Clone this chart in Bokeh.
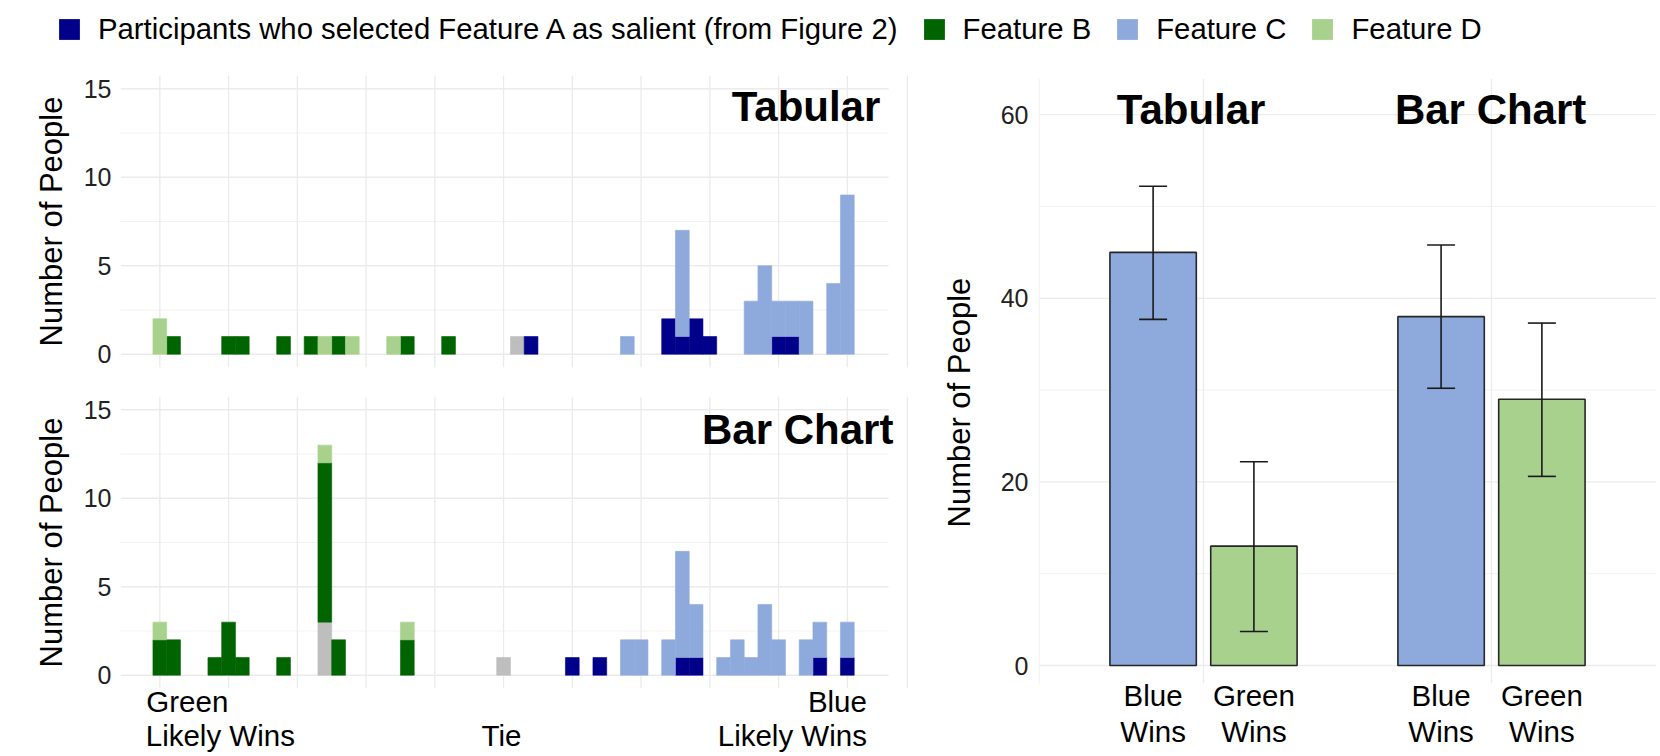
from bokeh.plotting import figure
from bokeh.layouts import column, row
from bokeh.models import (Label, Legend, LegendItem, FixedTicker, Range1d, ColumnDataSource,
                          LinearAxis, Title)
from bokeh.embed import file_html
from bokeh.resources import INLINE

FONT = "Liberation Sans"

# ---------------- data ----------------
categories = ["Other", "Feature A", "Feature B", "Feature C", "Feature D"]
cat_colors = ["#bebebe", "#00008b", "#006400", "#8eaadc", "#a9d18e"]
legend_labels = ["Participants who selected Feature A as salient (from Figure 2)",
                 "Feature B", "Feature C", "Feature D"]

n_bins = 51  # bin positions 0..50 (0 = Green likely wins, 25 = Tie, 50 = Blue likely wins)

# Tabular panel: (bin positions, counts) per category
tab_other_bins, tab_other_n = [26], [1]
tab_a_bins, tab_a_n = [27, 37, 38, 39, 40, 45, 46], [1, 2, 1, 2, 1, 1, 1]
tab_b_bins, tab_b_n = [1, 5, 6, 9, 11, 13, 18, 21], [1, 1, 1, 1, 1, 1, 1, 1]
tab_c_bins, tab_c_n = [34, 38, 43, 44, 45, 46, 47, 49, 50], [1, 6, 3, 5, 2, 2, 3, 4, 9]
tab_d_bins, tab_d_n = [0, 12, 14, 17], [2, 1, 1, 1]

# Bar Chart panel
bar_other_bins, bar_other_n = [12, 25], [3, 1]
bar_a_bins, bar_a_n = [30, 32, 38, 39, 48, 50], [1, 1, 1, 1, 1, 1]
bar_b_bins, bar_b_n = [0, 1, 4, 5, 6, 9, 12, 13, 18], [2, 2, 1, 3, 1, 1, 9, 2, 2]
bar_c_bins, bar_c_n = ([34, 35, 37, 38, 39, 41, 42, 43, 44, 45, 47, 48, 50],
                       [2, 2, 2, 6, 3, 1, 2, 1, 4, 2, 2, 2, 2])
bar_d_bins, bar_d_n = [0, 12, 18], [1, 1, 1]

hist_yticks = [0, 5, 10, 15]
hist_yminor = [2.5, 7.5, 12.5]
hist_xgrid = [0, 5, 10, 15, 20, 25, 30, 35, 40, 45, 50]
# x labels (two lines): anchor positions chosen so that the lines read as in the original
x_line1 = {2.0: "Green", 49.28: "Blue"}
x_line2 = {4.4: "Likely Wins", 24.85: "Tie", 46.0: "Likely Wins"}

# Summary bar chart
groups = ["Tabular", "Bar Chart"]
group_x = [1, 2]
outcomes = ["Blue Wins", "Green Wins"]
outcome_colors = ["#8eaadc", "#a9d18e"]
counts = [[45, 13], [38, 29]]
err_low = [[37.7, 3.7], [30.2, 20.6]]
err_high = [[52.2, 22.2], [45.8, 37.3]]
bar_yticks = [0, 20, 40, 60]
bar_yminor = [10, 30, 50]

GRID = "#ebebeb"
MINOR = "#f2f2f2"
TICK_PX = "25px"
TEXT_PX = "29.5px"
YTITLE_PX = "31px"


def dense(bins_, n_):
    arr = [0] * n_bins
    for b, n in zip(bins_, n_):
        arr[b] = n
    return arr


def style_yaxis(p, ticks, std, lstd, title=True):
    ax = p.yaxis[0]
    ax.ticker = FixedTicker(ticks=ticks)
    if title:
        ax.axis_label = "Number of People"
        ax.axis_label_text_font = FONT
        ax.axis_label_text_font_size = YTITLE_PX
        ax.axis_label_text_font_style = "normal"
        ax.axis_label_text_color = "#000000"
        ax.axis_label_standoff = lstd
    ax.major_label_text_font = FONT
    ax.major_label_text_font_size = TICK_PX
    ax.major_label_text_color = "#222222"
    ax.major_label_standoff = std
    ax.axis_line_color = None
    ax.major_tick_line_color = None
    ax.minor_tick_line_color = None
    ax.major_tick_in = 0
    ax.major_tick_out = 0


def label_axis(p, mapping, std):
    ax = LinearAxis(ticker=FixedTicker(ticks=list(mapping.keys())),
                    major_label_overrides={k: v for k, v in mapping.items()})
    ax.major_label_text_font = FONT
    ax.major_label_text_font_size = TEXT_PX
    ax.major_label_text_color = "#000000"
    ax.major_label_standoff = std
    ax.axis_line_color = None
    ax.major_tick_line_color = None
    ax.minor_tick_line_color = None
    ax.major_tick_in = 0
    ax.major_tick_out = 0
    p.add_layout(ax, "below")
    return ax


FRAME_W = 788
X0 = -2.86
X1 = X0 + FRAME_W / 13.75
Y0, Y1 = -0.75, 15.75


def hist_fig(panel, title, title_x, title_y, bottom_border, top_border, with_labels):
    p = figure(frame_width=FRAME_W, frame_height=292, output_backend="svg", toolbar_location=None,
               x_range=Range1d(X0, X1), y_range=Range1d(Y0, Y1), x_axis_location=None,
               min_border_left=120, min_border_right=0, min_border_top=top_border,
               min_border_bottom=bottom_border)
    p.outline_line_color = None
    p.xgrid.visible = False
    p.ygrid.visible = False
    p.segment(x0=[X0] * len(hist_yminor), x1=[53] * len(hist_yminor), y0=hist_yminor, y1=hist_yminor,
              line_color=MINOR, line_width=1.0)
    p.segment(x0=[X0] * len(hist_yticks), x1=[53] * len(hist_yticks), y0=hist_yticks, y1=hist_yticks,
              line_color=GRID, line_width=1.3)
    p.segment(x0=hist_xgrid, x1=hist_xgrid, y0=[Y0] * len(hist_xgrid), y1=[Y1] * len(hist_xgrid),
              line_color=GRID, line_width=1.3)
    p.segment(x0=[X1 - 0.08], x1=[X1 - 0.08], y0=[Y0], y1=[Y1], line_color=GRID, line_width=1.3)
    base = [0] * n_bins
    for (bins_, n_), col in zip(panel, cat_colors):
        d = dense(bins_, n_)
        xs, bots, tops = [], [], []
        for i in range(n_bins):
            if d[i] > 0:
                xs.append(i)
                bots.append(base[i])
                tops.append(base[i] + d[i])
                base[i] += d[i]
        p.vbar(x=xs, bottom=bots, top=tops, width=1.0, fill_color=col, line_color=col, line_width=0.6)
    style_yaxis(p, hist_yticks, 9, 12)
    p.add_layout(Label(x=title_x, y=title_y, text=title, text_font=FONT, text_font_style="bold",
                       text_font_size="42px", text_align="right", text_baseline="alphabetic",
                       text_color="#000000"))
    if with_labels:
        label_axis(p, x_line1, -4)
        label_axis(p, x_line2, -2)
    return p


tab_panel = [(tab_other_bins, tab_other_n), (tab_a_bins, tab_a_n), (tab_b_bins, tab_b_n),
             (tab_c_bins, tab_c_n), (tab_d_bins, tab_d_n)]
bar_panel = [(bar_other_bins, bar_other_n), (bar_a_bins, bar_a_n), (bar_b_bins, bar_b_n),
             (bar_c_bins, bar_c_n), (bar_d_bins, bar_d_n)]

p_top = hist_fig(tab_panel, "Tabular", 52.4, 13.98, 14, 15, False)
p_bot = hist_fig(bar_panel, "Bar Chart", 53.35, 13.88, 66, 15, True)

# ---------------- right summary chart ----------------
RX0, RX1 = 0.427, 2.573
RY0, RY1 = -1.96, 63.94
pr = figure(frame_width=618, frame_height=605, output_backend="svg", toolbar_location=None,
            x_range=Range1d(RX0, RX1), y_range=Range1d(RY0, RY1), x_axis_location=None,
            min_border_left=130, min_border_right=0, min_border_top=18, min_border_bottom=71)
pr.outline_line_color = None
pr.xgrid.visible = False
pr.ygrid.visible = False
pr.segment(x0=[RX0] * 3, x1=[RX1] * 3, y0=bar_yminor, y1=bar_yminor, line_color=MINOR, line_width=1.0)
pr.segment(x0=[RX0] * 4, x1=[RX1] * 4, y0=bar_yticks, y1=bar_yticks, line_color=GRID, line_width=1.3)
pr.segment(x0=group_x, x1=group_x, y0=[RY0] * 2, y1=[RY1] * 2, line_color=GRID, line_width=1.3)
pr.segment(x0=[RX0 + 0.002], x1=[RX0 + 0.002], y0=[RY0], y1=[RY1], line_color=MINOR, line_width=1.3)

offsets = [-0.175, 0.175]
bx, bt, bc, el, eh, names = [], [], [], [], [], []
for gi, gx in enumerate(group_x):
    for oi, off in enumerate(offsets):
        bx.append(round(gx + off, 3))
        bt.append(counts[gi][oi])
        bc.append(outcome_colors[oi])
        el.append(err_low[gi][oi])
        eh.append(err_high[gi][oi])
        names.append(outcomes[oi])
src = ColumnDataSource(dict(x=bx, top=bt, color=bc, lo=el, hi=eh,
                            cl=[v - 0.0486 for v in bx], cr=[v + 0.0486 for v in bx]))
pr.vbar(x="x", top="top", bottom=0, width=0.3, fill_color="color", line_color="#262626",
        line_width=1.6, source=src)
pr.segment(x0="x", x1="x", y0="lo", y1="hi", line_color="#1a1a1a", line_width=1.6, source=src)
pr.segment(x0="cl", x1="cr", y0="lo", y1="lo", line_color="#1a1a1a", line_width=1.6, source=src)
pr.segment(x0="cl", x1="cr", y0="hi", y1="hi", line_color="#1a1a1a", line_width=1.6, source=src)
style_yaxis(pr, bar_yticks, 10, 30, title=False)
pr.add_layout(Title(text="Number of People", align="left", offset=156, standoff=42,
                    text_font=FONT, text_font_size=YTITLE_PX, text_font_style="normal",
                    text_color="#000000"), "left")
label_axis(pr, {x: n.split(" ")[0] for x, n in zip(bx, names)}, -5)
label_axis(pr, {x: n.split(" ")[1] for x, n in zip(bx, names)}, 0)

title_xs = [0.957, 1.997]
for g, tx in zip(groups, title_xs):
    pr.add_layout(Label(x=tx, y=60.6, text=g, text_font=FONT, text_font_style="bold",
                        text_font_size="42px", text_align="center", text_baseline="alphabetic",
                        text_color="#000000"))

# ---------------- legend ----------------
pl = figure(width=1656, height=60, output_backend="svg", toolbar_location=None,
            x_axis_location=None, y_axis_location=None, min_border=0,
            x_range=Range1d(0, 1), y_range=Range1d(0, 1))
pl.outline_line_color = None
pl.xgrid.visible = False
pl.ygrid.visible = False
items = []
for lab, col in zip(legend_labels, cat_colors[1:]):
    r = pl.quad(left=[5], right=[6], top=[5], bottom=[6], fill_color=col, line_color=None)
    items.append(LegendItem(label=lab, renderers=[r]))
leg = Legend(items=items, orientation="horizontal", location=(56, 14), glyph_width=26, glyph_height=26,
             label_standoff=16, spacing=23, padding=0, margin=0, border_line_color=None,
             background_fill_alpha=0, label_text_font=FONT, label_text_font_size="29.3px",
             label_text_color="#000000")
pl.add_layout(leg)

layout = column(pl, row(column(p_top, p_bot), pr))
open("out.html", "w").write(file_html(layout, INLINE))
